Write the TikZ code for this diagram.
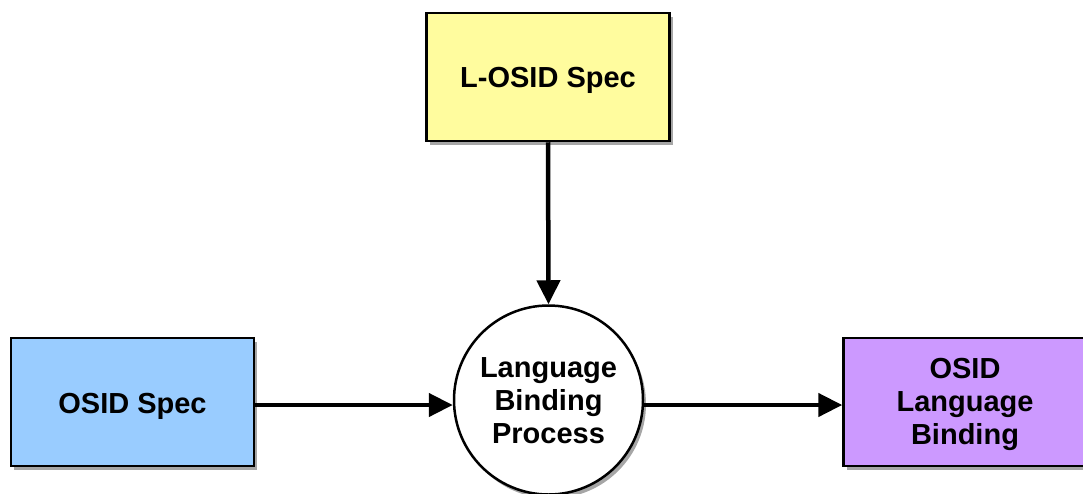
\documentclass[tikz,border=0pt]{standalone}
\usepackage{fontspec}
\setmainfont{Liberation Sans}
\usetikzlibrary{shadows,arrows.meta}
\definecolor{cyellow}{HTML}{FFFC9E}
\definecolor{cblue}{HTML}{99CCFF}
\definecolor{cpurple}{HTML}{CC99FF}
\tikzset{
  txt/.style={align=center, font=\fontsize{29}{33}\selectfont\bfseries, inner sep=0pt},
  box/.style={draw=black, line width=2.5pt, minimum width=243pt, minimum height=128pt, inner sep=0pt,
    drop shadow={shadow xshift=3pt, shadow yshift=-4pt, opacity=0.35, fill=black}},
  proc/.style={draw=black, line width=2.5pt, circle, minimum size=189pt, inner sep=0pt, fill=white,
    drop shadow={shadow xshift=3pt, shadow yshift=-4pt, opacity=0.35, fill=black}},
  conn/.style={line width=4.5pt, -{Triangle[length=24pt, width=23pt]}}
}
\begin{document}
\begin{tikzpicture}[x=1pt, y=-1pt]
\useasboundingbox (0,0) rectangle (1083,493);
\begin{scope}
\clip (0,0) rectangle (1083,493);
\node[box, fill=cyellow] (lspec) at (548,77) {};
\node[txt] (lspectxt) at (548,80) {L-OSID Spec};
\node[box, fill=cblue] (ospec) at (132.5,402) {};
\node[txt] (ospectxt) at (132.5,406) {OSID Spec};
\node[proc] (lbp) at (548.5,400) {};
\node[txt] (lbptxt) at (548.5,401) {Language\\Binding\\Process};
\node[box, fill=cpurple] (olb) at (965,402) {};
\node[txt] (olbtxt) at (965,404) {OSID\\Language\\Binding};
\draw[conn] (lspec.south) -- (lbp.north);
\draw[conn] (ospec.east |- 0,405) -- (lbp.west |- 0,405);
\draw[conn] (lbp.east |- 0,405) -- (olb.west |- 0,405);
\end{scope}
\end{tikzpicture}
\end{document}
